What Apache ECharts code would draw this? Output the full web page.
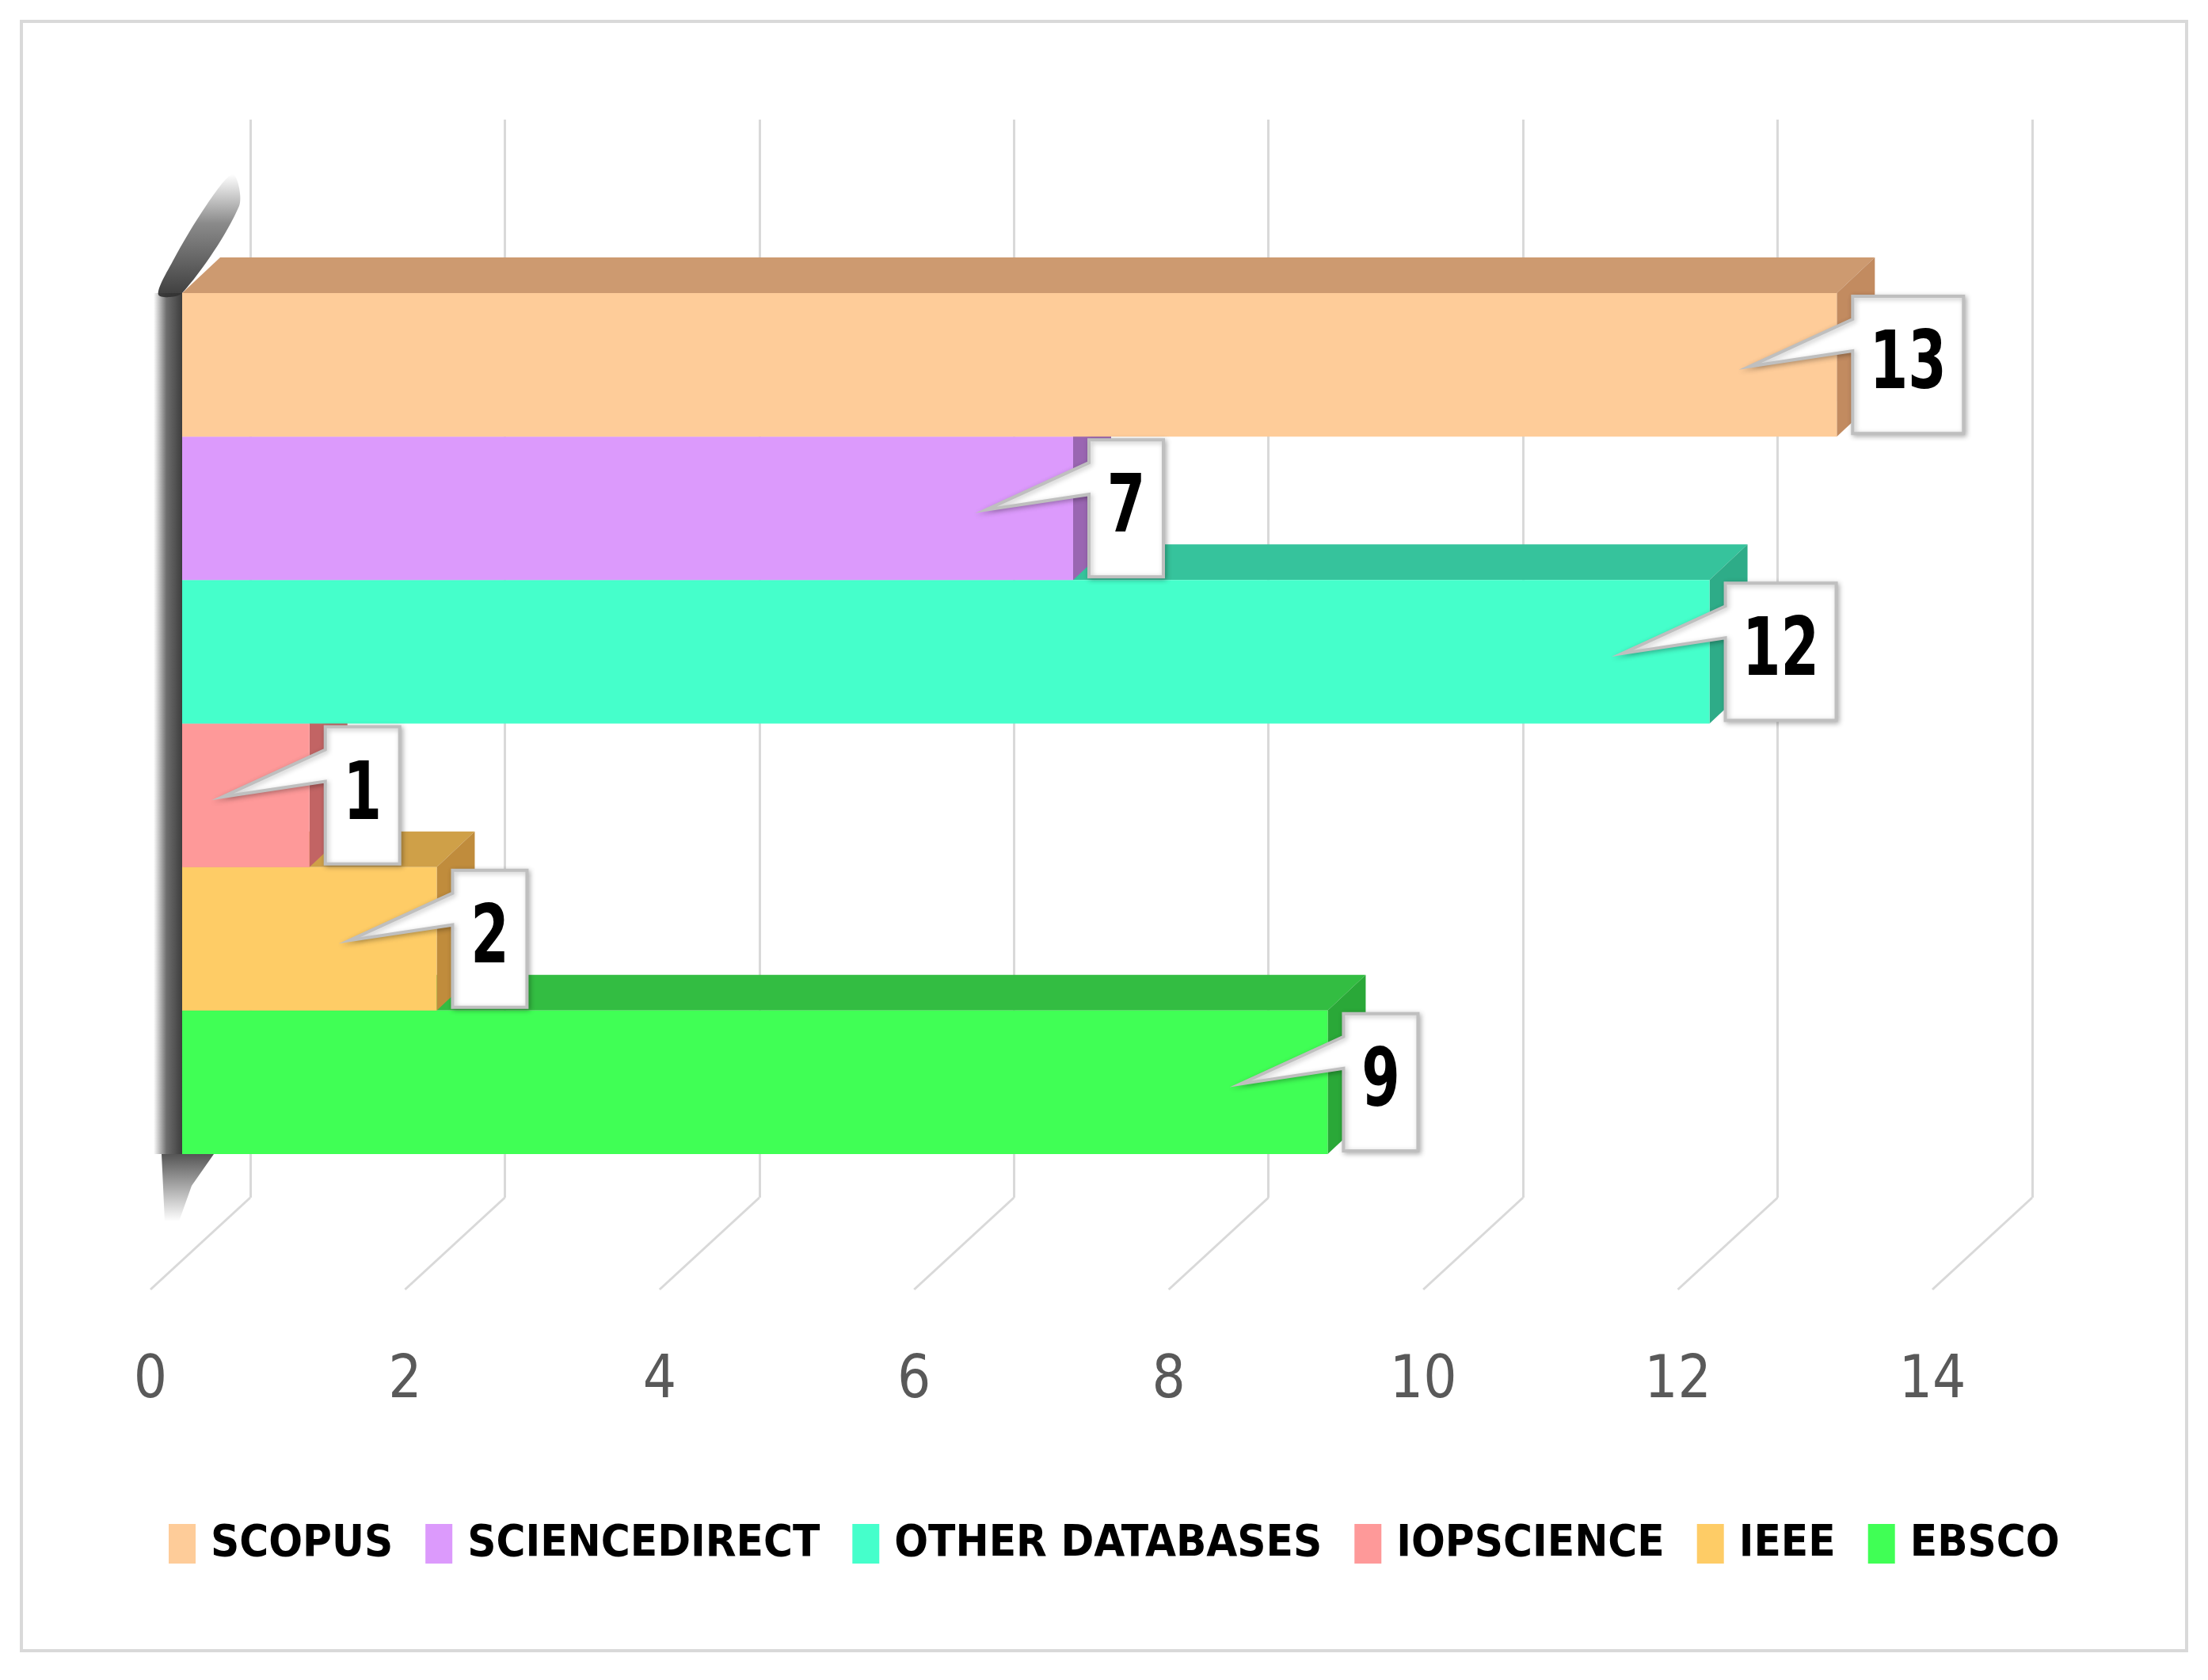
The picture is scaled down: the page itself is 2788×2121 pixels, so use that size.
<!DOCTYPE html>
<html>
<head>
<meta charset="utf-8">
<script src="https://cdn.jsdelivr.net/npm/echarts@6/dist/echarts.min.js"></script>
<style>
  html, body { margin: 0; padding: 0; background: #ffffff; }
  #main { width: 2788px; height: 2121px; }
</style>
</head>
<body>
<div id="main"></div>
<script>
// data
var categories = ['SCOPUS', 'SCIENCEDIRECT', 'OTHER DATABASES', 'IOPSCIENCE', 'IEEE', 'EBSCO'];
var counts = [13, 7, 12, 1, 2, 9];
var tickValues = [0, 2, 4, 6, 8, 10, 12, 14];

var frontColors = ['#fecc99', '#dc9afc', '#45ffcb', '#fe9999', '#fecc66', '#40ff55'];
var topColors   = ['#cd9a70', '#b07ac9', '#36c39c', '#cc7777', '#cfa048', '#33bd42'];
var sideColors  = ['#c28b60', '#9a66b2', '#2eac88', '#c26464', '#c08c3c', '#2aa838'];

var FONT = "'DejaVu Sans Condensed', 'DejaVu Sans', sans-serif";
var DEPTH = [48, -45];      // bar depth offset
var FLOOR = [-126, 116];    // floor offset from back wall to front edge

var dom = document.getElementById('main');
var myChart = echarts.init(dom);

function renderBar(params, api) {
    var idx = api.value(1);
    var start = api.coord([0, idx]);
    var end = api.coord([api.value(0), idx]);
    var bh = api.size([0, 1])[1];
    var x0 = start[0], x1 = end[0];
    var yT = end[1] - bh / 2, yB = end[1] + bh / 2;
    var dx = DEPTH[0], dy = DEPTH[1];
    var order = 5 - idx;
    var text = String(api.value(0));

    var L = x1 + 20;
    var W = 48 + 46 * text.length;
    var bT = yT + 4, bBot = yB - 4;
    var cy = end[1];

    return {
        type: 'group',
        children: [
            {
                type: 'rect',
                shape: { x: x0, y: yT, width: x1 - x0, height: bh },
                style: { fill: frontColors[idx] },
                z2: order * 3 + 2
            },
            {
                type: 'polygon',
                shape: { points: [[x0, yT], [x1, yT], [x1 + dx, yT + dy], [x0 + dx, yT + dy]] },
                style: { fill: topColors[idx] },
                z2: order * 3
            },
            {
                type: 'polygon',
                shape: { points: [[x1, yT], [x1 + dx, yT + dy], [x1 + dx, yB + dy], [x1, yB]] },
                style: { fill: sideColors[idx] },
                z2: order * 3 + 1
            },
            {
                type: 'polygon',
                shape: {
                    points: [
                        [L, bT], [L + W, bT], [L + W, bBot], [L, bBot],
                        [L, bT + 69], [L - 130, cy + 2], [L, bT + 29]
                    ]
                },
                style: {
                    fill: '#ffffff', stroke: '#bfbfbf', lineWidth: 4,
                    shadowBlur: 6, shadowColor: 'rgba(0,0,0,0.25)', shadowOffsetX: 2, shadowOffsetY: 2
                },
                z2: 100
            },
            {
                type: 'text',
                x: L + W / 2,
                y: cy + 3,
                scaleX: 0.76,
                style: {
                    text: text, x: 0, y: 0,
                    align: 'center', verticalAlign: 'middle',
                    fontFamily: FONT, fontWeight: 'bold', fontSize: 102, fill: '#000000'
                },
                z2: 101
            }
        ]
    };
}

var series = [];

// dark left wall, drawn as soft gradients
series.push({
    type: 'custom',
    name: 'wall',
    xAxisIndex: 1,
    yAxisIndex: 1,
    data: [[0, 0]],
    silent: true,
    renderItem: function (params, api) {
        var bh = api.size([0, 1])[1];
        var top = api.coord([0, 0]);
        var bot = api.coord([0, categories.length - 1]);
        var x0 = top[0];
        var yT = top[1] - bh / 2, yB = bot[1] + bh / 2;
        var side = new echarts.graphic.LinearGradient(0, 0, 1, 0, [
            { offset: 0, color: 'rgba(60,60,60,0)' },
            { offset: 0.45, color: 'rgba(60,60,60,0.75)' },
            { offset: 1, color: 'rgba(50,50,50,0.95)' }
        ]);
        var up = new echarts.graphic.LinearGradient(0, 1, 0, 0, [
            { offset: 0, color: 'rgba(50,50,50,0.95)' },
            { offset: 0.6, color: 'rgba(60,60,60,0.6)' },
            { offset: 1, color: 'rgba(60,60,60,0)' }
        ]);
        var down = new echarts.graphic.LinearGradient(0, 0, 0, 1, [
            { offset: 0, color: 'rgba(55,55,55,0.85)' },
            { offset: 1, color: 'rgba(60,60,60,0)' }
        ]);
        return {
            type: 'group',
            children: [
                {
                    type: 'rect',
                    shape: { x: x0 - 36, y: yT, width: 36, height: yB - yT },
                    style: { fill: side },
                    z2: -1
                },
                {
                    type: 'polygon',
                    shape: {
                        points: [
                            [x0 - 30, yT + 2], [x0, yT], [x0 + 72, yT - 110],
                            [x0 + 64, yT - 150], [x0 + 30, yT - 110], [x0 - 12, yT - 40]
                        ],
                        smooth: 0.3
                    },
                    style: { fill: up },
                    z2: -1
                },
                {
                    type: 'polygon',
                    shape: {
                        points: [
                            [x0 - 26, yB], [x0 + 40, yB], [x0 + 12, yB + 40], [x0 - 4, yB + 85], [x0 - 22, yB + 85]
                        ]
                    },
                    style: { fill: down },
                    z2: -1
                }
            ]
        };
    }
});

// floor lines
series.push({
    type: 'custom',
    name: 'floor',
    xAxisIndex: 0,
    yAxisIndex: 0,
    data: tickValues.map(function (v) { return [v, 0]; }),
    silent: true,
    renderItem: function (params, api) {
        var p = api.coord([api.value(0), 0]);
        return {
            type: 'line',
            shape: { x1: p[0], y1: p[1], x2: p[0] + FLOOR[0], y2: p[1] + FLOOR[1] },
            style: { stroke: '#d9d9d9', lineWidth: 3 }
        };
    }
});

// bars, drawn bottom row first
for (var i = categories.length - 1; i >= 0; i--) {
    series.push({
        type: 'custom',
        name: categories[i],
        xAxisIndex: 1,
        yAxisIndex: 1,
        itemStyle: { color: frontColors[i] },
        data: [[counts[i], i]],
        encode: { x: 0, y: 1 },
        renderItem: renderBar
    });
}

var option = {
    backgroundColor: '#ffffff',
    animation: false,
    graphic: [{
        type: 'rect',
        shape: { x: 27, y: 27, width: 2734, height: 2057 },
        style: { fill: 'none', stroke: '#d9d9d9', lineWidth: 4 },
        silent: true
    }],
    legend: {
        data: categories,
        left: 208,
        top: 1916,
        icon: 'rect',
        itemWidth: 34,
        itemHeight: 50,
        itemGap: 41,
        textStyle: {
            fontFamily: FONT, fontWeight: 'bold', fontSize: 56, color: '#000000',
            padding: [0, 0, 0, 14]
        }
    },
    grid: [
        { left: 316, width: 2250, top: 151, height: 1361 },
        { left: 230, width: 2250, top: 370, height: 1087 },
        { left: 190, width: 2250, top: 1528, height: 100 }
    ],
    xAxis: [
        {
            gridIndex: 0, type: 'value', min: 0, max: 14, interval: 2,
            axisLine: { show: false }, axisTick: { show: false }, axisLabel: { show: false },
            splitLine: { show: true, lineStyle: { color: '#d9d9d9', width: 3 } }
        },
        {
            gridIndex: 1, type: 'value', min: 0, max: 14, interval: 2, show: false
        },
        {
            gridIndex: 2, type: 'value', min: 0, max: 14, interval: 2,
            axisLine: { show: false }, axisTick: { show: false }, splitLine: { show: false },
            axisLabel: {
                margin: 80, color: '#595959', fontFamily: FONT, fontSize: 74
            }
        }
    ],
    yAxis: [
        { gridIndex: 0, type: 'value', min: 0, max: 1, show: false },
        { gridIndex: 1, type: 'category', data: categories, inverse: true, show: false },
        { gridIndex: 2, type: 'value', min: 0, max: 1, show: false }
    ],
    series: series
};

myChart.setOption(option);
</script>
</body>
</html>
